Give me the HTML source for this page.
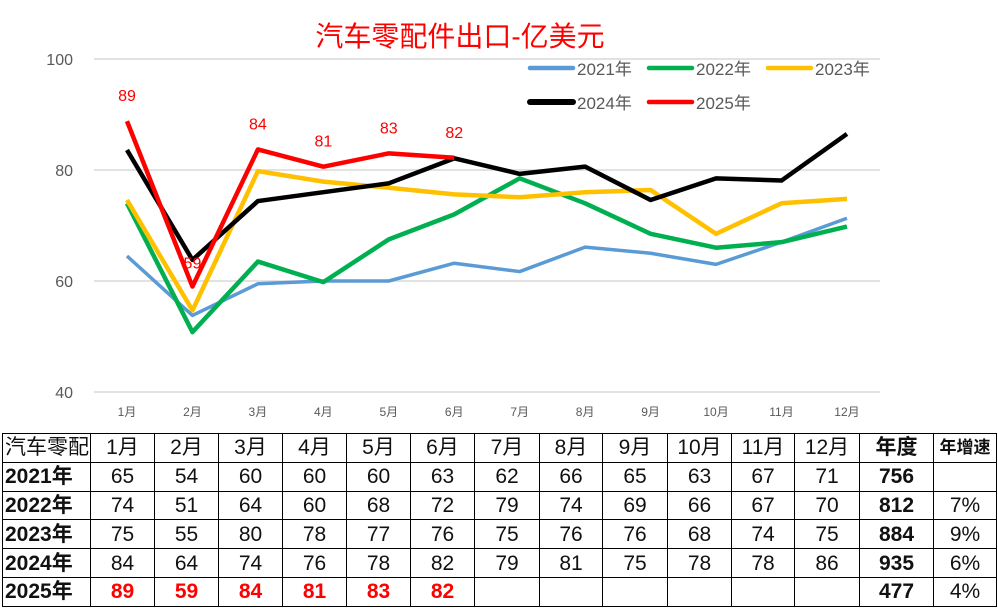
<!DOCTYPE html>
<html><head><meta charset="utf-8"><style>
body{margin:0;background:#fff;width:998px;height:608px;overflow:hidden;position:relative;font-family:"Liberation Sans","Noto Sans CJK SC",sans-serif}
svg{position:absolute;left:0;top:0}
table{position:absolute;left:2px;top:433px;border-collapse:collapse;table-layout:fixed}
td{border:1.5px solid #000;height:27.8px;padding:0;text-align:center;font-size:21px;color:#111;line-height:27px;overflow:hidden;white-space:nowrap}
td.h{font-weight:bold;text-align:left;padding-left:2px}
td.r{color:#f00;font-weight:bold}
td.b{font-weight:bold}
</style></head><body>
<svg id="chart" width="998" height="430"></svg>
<table>
<colgroup><col style="width:88px"><col style="width:64px"><col style="width:64px"><col style="width:64px"><col style="width:64px"><col style="width:64px"><col style="width:64px"><col style="width:65px"><col style="width:63px"><col style="width:65px"><col style="width:64px"><col style="width:63px"><col style="width:65px"><col style="width:74px"><col style="width:63px"></colgroup>
<tr><td class="h" style="font-weight:normal">汽车零配</td><td>1月</td><td>2月</td><td>3月</td><td>4月</td><td>5月</td><td>6月</td><td>7月</td><td>8月</td><td>9月</td><td>10月</td><td>11月</td><td>12月</td><td class="b">年度</td><td style="font-size:17px;font-weight:bold">年增速</td></tr>
<tr><td class="h">2021年</td><td>65</td><td>54</td><td>60</td><td>60</td><td>60</td><td>63</td><td>62</td><td>66</td><td>65</td><td>63</td><td>67</td><td>71</td><td class="b">756</td><td></td></tr>
<tr><td class="h">2022年</td><td>74</td><td>51</td><td>64</td><td>60</td><td>68</td><td>72</td><td>79</td><td>74</td><td>69</td><td>66</td><td>67</td><td>70</td><td class="b">812</td><td>7%</td></tr>
<tr><td class="h">2023年</td><td>75</td><td>55</td><td>80</td><td>78</td><td>77</td><td>76</td><td>75</td><td>76</td><td>76</td><td>68</td><td>74</td><td>75</td><td class="b">884</td><td>9%</td></tr>
<tr><td class="h">2024年</td><td>84</td><td>64</td><td>74</td><td>76</td><td>78</td><td>82</td><td>79</td><td>81</td><td>75</td><td>78</td><td>78</td><td>86</td><td class="b">935</td><td>6%</td></tr>
<tr><td class="h">2025年</td><td class="r">89</td><td class="r">59</td><td class="r">84</td><td class="r">81</td><td class="r">83</td><td class="r">82</td><td></td><td></td><td></td><td></td><td></td><td></td><td class="b">477</td><td>4%</td></tr>
</table>
<script>
const months=["1月","2月","3月","4月","5月","6月","7月","8月","9月","10月","11月","12月"];
const yTicks=[40,60,80,100];
const s2021=[64.5,53.8,59.5,60,60,63.2,61.7,66.1,65,63,67,71.3];
const s2022=[74,50.8,63.5,59.8,67.5,72,78.5,74,68.5,66,67,69.8];
const s2023=[74.6,54.7,79.8,77.9,76.8,75.6,75.1,76,76.4,68.5,74,74.8];
const s2024=[83.6,63.8,74.4,76,77.6,82.1,79.3,80.6,74.6,78.5,78.1,86.5];
const s2025=[88.8,59,83.7,80.6,83,82.2];
const labels2025=["89","59","84","81","83","82"];
const svg=document.getElementById('chart');
const NS="http://www.w3.org/2000/svg";
function x(i){return 127+i*65.45;}
function y(v){return 392-(v-40)*5.55;}
function mk(t,a,txt){const e=document.createElementNS(NS,t);for(const k in a)e.setAttribute(k,a[k]);if(txt!==undefined)e.textContent=txt;svg.appendChild(e);return e;}
let t=mk('text',{x:460,y:46,'text-anchor':'middle','font-size':28,fill:'#f00'},'汽车零配件出口-亿美元');


yTicks.forEach(v=>{
 const g=mk('line',{x1:94,x2:880,y1:y(v),y2:y(v),stroke:'#d9d9d9','stroke-width':1.5});
 
 
 const l=mk('text',{x:73,y:y(v)+6,'text-anchor':'end','font-size':16,fill:'#595959'},v);
 
 
});
months.forEach((m,i)=>{
 const l=mk('text',{x:x(i),y:416,'text-anchor':'middle','font-size':12,fill:'#595959'},m);
 
 
});
const series=[[s2021,'#5b9bd5','2021'],[s2022,'#00b050','2022'],[s2023,'#ffc000','2023'],[s2024,'#000','2024'],[s2025,'#f00','2025']];
series.forEach(([d,c,n])=>{
 const p=mk('polyline',{points:d.map((v,i)=>x(i)+','+y(v)).join(' '),fill:'none',stroke:c,'stroke-width':n==='2021'?3.5:4.5,'stroke-linejoin':'round'});
 
 
});
s2025.forEach((v,i)=>{
 const l=mk('text',{x:x(i),y:i===1?y(v)-18:y(v)-20,'text-anchor':'middle','font-size':16,fill:'#f00'},labels2025[i]);
 
 
});
const leg=[[530,68,'#5b9bd5','2021年'],[649,68,'#00b050','2022年'],[768,68,'#ffc000','2023年'],[530,102,'#000','2024年'],[649,102,'#f00','2025年']];
leg.forEach(([lx,ly,c,n])=>{
 const l=mk('line',{x1:lx,x2:lx+43,y1:ly,y2:ly,stroke:c,'stroke-width':n==='2024年'?6:4.5,'stroke-linecap':'round'});
 
 
 const tx=mk('text',{x:lx+47,y:ly+7,'font-size':17,fill:'#595959'},n);
 
 
});
</script>
</body></html>
